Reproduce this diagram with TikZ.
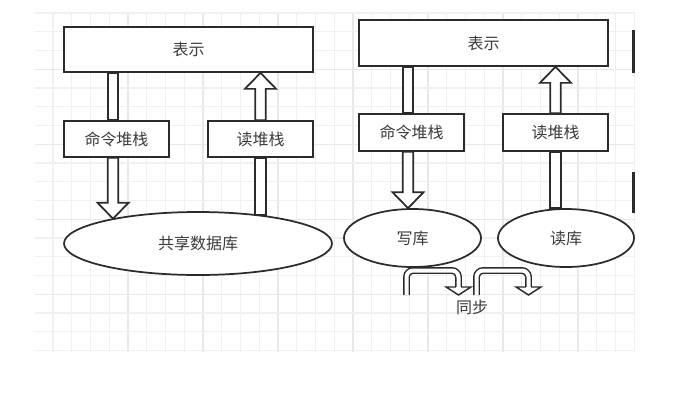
\documentclass[tikz,border=0pt]{standalone}
\usepackage{fontspec}
\setmainfont{Noto Sans CJK SC}
\usetikzlibrary{shapes.geometric,calc}
\pgfdeclarelayer{gridlayer}
\pgfdeclarelayer{arrowlayer}
\pgfsetlayers{gridlayer,arrowlayer,main}
\definecolor{strokec}{HTML}{2B2B2B}
\definecolor{txtc}{HTML}{3C3C3C}
\definecolor{gminor}{HTML}{F0F0F0}
\definecolor{gmajor}{HTML}{E8E8E8}
\tikzset{
  boxnode/.style={draw=strokec, line width=1.3pt, fill=white, rectangle, inner sep=0pt, text=txtc, font=\fontsize{12}{14}\selectfont},
  ellnode/.style={draw=strokec, line width=1.3pt, fill=white, ellipse, inner sep=0pt, text=txtc, font=\fontsize{12}{14}\selectfont},
  lblnode/.style={inner sep=0pt, text=txtc, font=\fontsize{12}{14}\selectfont},
  flexline/.style={draw=strokec, line width=1.3pt, fill=white, line join=miter},
  syncshaft/.style={draw=strokec, line width=1.1pt, double=white, double distance=3pt, rounded corners=5pt},
  synchead/.style={draw=strokec, line width=1.1pt, fill=white, line join=miter},
  edgebar/.style={draw=strokec, line width=2.6pt},
}
\newcommand\flexdown[2]{\draw[flexline] let \p1=#1, \p2=#2 in
  (\x1-3.9pt,\y1) -- (\x1-3.9pt,\y2+12pt) -- (\x1-11.7pt,\y2+12pt) -- (\x1,\y2)
  -- (\x1+11.7pt,\y2+12pt) -- (\x1+3.9pt,\y2+12pt) -- (\x1+3.9pt,\y1) -- cycle;}
\newcommand\flexup[2]{\draw[flexline] let \p1=#1, \p2=#2 in
  (\x1-3.9pt,\y1) -- (\x1-3.9pt,\y2-12pt) -- (\x1-11.7pt,\y2-12pt) -- (\x1,\y2)
  -- (\x1+11.7pt,\y2-12pt) -- (\x1+3.9pt,\y2-12pt) -- (\x1+3.9pt,\y1) -- cycle;}
\newcommand\flexshaft[2]{\draw[flexline] let \p1=#1, \p2=#2 in
  (\x1-3.9pt,\y1) rectangle (\x1+3.9pt,\y2);}
\newcommand\synchd[2]{\filldraw[synchead] let \p1=#1, \p2=#2 in
  (\x1-2.05pt,\y1) -- (\x1-9.3pt,\y1) -- (\x2,\y2) -- (\x1+9.3pt,\y1) -- (\x1+2.05pt,\y1);}
\begin{document}
\begin{tikzpicture}[x=0.75pt,y=-0.75pt]
\useasboundingbox (0,0) rectangle (687,405);
% grid
\begin{pgfonlayer}{gridlayer}
\fill[white] (0,0) rectangle (687,405);
\foreach \k in {0,...,31}{
  \pgfmathsetmacro\gx{53+18.75*\k}
  \pgfmathtruncatemacro\gm{mod(\k,4)}
  \ifnum\gm=0 \ifnum\k>0
    \draw[gmajor, line width=0.8pt] (\gx,13) -- (\gx,352);
  \else
    \draw[gminor, line width=0.8pt] (\gx,13) -- (\gx,352);
  \fi\else
    \draw[gminor, line width=0.8pt] (\gx,13) -- (\gx,352);
  \fi
}
\foreach \k in {0,...,18}{
  \pgfmathsetmacro\gy{13+18.75*\k}
  \pgfmathtruncatemacro\gm{mod(\k,4)}
  \ifnum\gm=3
    \draw[gmajor, line width=0.8pt] (35,\gy) -- (635,\gy);
  \else
    \draw[gminor, line width=0.8pt] (35,\gy) -- (635,\gy);
  \fi
}
\end{pgfonlayer}
% left diagram
\node[boxnode, minimum width=186.75pt, minimum height=33.75pt] (showL) at (188.5,49.5) {表示};
\node[boxnode, minimum width=78.75pt, minimum height=27pt] (cmdL) at (116.5,139) {命令堆栈};
\node[boxnode, minimum width=78.75pt, minimum height=27pt] (readL) at (260.5,139) {读堆栈};
\node[ellnode, minimum width=201pt, minimum height=47.25pt] (db) at (198,243.5) {共享数据库};
% right diagram
\node[boxnode, minimum width=186.75pt, minimum height=34.5pt] (showR) at (483.5,43) {表示};
\node[boxnode, minimum width=78.75pt, minimum height=27.75pt] (cmdR) at (411.5,132.5) {命令堆栈};
\node[boxnode, minimum width=78.75pt, minimum height=27.75pt] (readR) at (555.5,132.5) {读堆栈};
\node[ellnode, minimum width=102.75pt, minimum height=43.5pt] (wr) at (412.5,238) {写库};
\node[ellnode, minimum width=102pt, minimum height=43.5pt] (rd) at (566,238) {读库};
\node[lblnode] (sync) at (472,307) {同步};
% connector coordinates
\coordinate (aL1) at ([xshift=-2.6pt]cmdL.south);
\coordinate (aL0) at (aL1 |- showL.south);
\coordinate (aLm) at (aL1 |- cmdL.north);
\coordinate (aL2) at (aL1 |- db.164);
\coordinate (bL0) at (readL.south |- db.24);
\coordinate (bL1) at (readL.north |- showL.south);
\coordinate (aR1) at ([xshift=-2.6pt]cmdR.south);
\coordinate (aR0) at (aR1 |- showR.south);
\coordinate (aRm) at (aR1 |- cmdR.north);
\coordinate (aR2) at (aR1 |- wr.north);
\coordinate (bR0) at (readR.south |- rd.north);
\coordinate (bR1) at (readR.north |- showR.south);
\coordinate (s1s) at (406.5,295);
\coordinate (s1c) at (458.5,270.5);
\coordinate (s1b) at (458.5,287);
\coordinate (s1t) at (458.5,295);
\coordinate (s2s) at (476.5,295);
\coordinate (s2c) at (528.5,270.5);
\coordinate (s2b) at (528.5,287);
\coordinate (s2t) at (528.5,295);
\begin{pgfonlayer}{arrowlayer}
\flexshaft{(aL0)}{(aLm)}
\flexdown{(aL1)}{(aL2)}
\flexshaft{(bL0)}{(readL.south)}
\flexup{(readL.north)}{(bL1)}
\flexshaft{(aR0)}{(aRm)}
\flexdown{(aR1)}{(aR2)}
\flexshaft{(bR0)}{(readR.south)}
\flexup{(readR.north)}{(bR1)}
\end{pgfonlayer}
% sync arrows
\draw[syncshaft] (s1s) |- (s1c) -- (s1b);
\synchd{(s1b)}{(s1t)}
\draw[syncshaft] (s2s) |- (s2c) -- (s2b);
\synchd{(s2b)}{(s2t)}
% partial shapes at right edge
\draw[edgebar] (633.5,30) -- (633.5,73);
\draw[edgebar] (633.5,172) -- (633.5,213);
\end{tikzpicture}
\end{document}
